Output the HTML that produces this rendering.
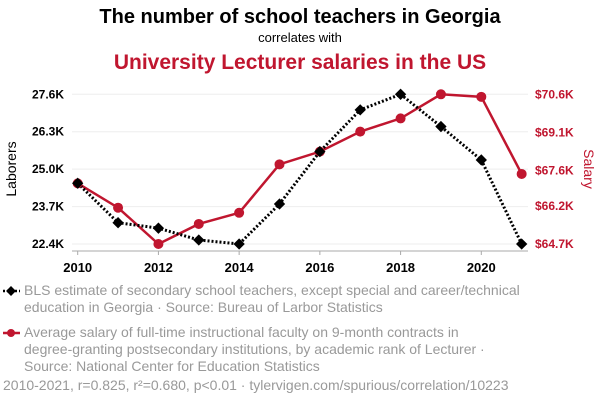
<!DOCTYPE html>
<html><head><meta charset="utf-8"><style>
body{margin:0;background:#fff;}
svg{display:block;font-family:"Liberation Sans",sans-serif;}
</style></head><body>
<svg id="c" width="600" height="408">
<text x="300" y="23" text-anchor="middle" font-size="20" font-weight="bold" fill="#000">The number of school teachers in Georgia</text>
<text x="300" y="42" text-anchor="middle" font-size="13" fill="#000">correlates with</text>
<text x="300" y="69" text-anchor="middle" font-size="21" font-weight="bold" fill="#c0162f">University Lecturer salaries in the US</text>
<text transform="translate(16,169) rotate(-90)" text-anchor="middle" font-size="14" fill="#000">Laborers</text>
<text transform="translate(584,169) rotate(90)" text-anchor="middle" font-size="14" fill="#c0162f">Salary</text>
<g id="grid"></g><g id="axes"></g><g id="marks"></g>
<g font-size="14" fill="#999">
<path d="M3,291 L20,291" stroke="#000" stroke-width="2.5" stroke-dasharray="2,2"/>
<rect x="7.5" y="287.5" width="7" height="7" transform="rotate(45 11 291)" fill="#000"/>
<text x="24" y="295"><tspan x="24">BLS estimate of secondary school teachers, except special and career/technical</tspan><tspan x="24" dy="17">education in Georgia · Source: Bureau of Larbor Statistics</tspan></text>
<path d="M3,333 L20,333" stroke="#c0162f" stroke-width="2.5"/>
<circle cx="11" cy="333" r="4" fill="#c0162f"/>
<text x="24" y="337"><tspan x="24">Average salary of full-time instructional faculty on 9-month contracts in</tspan><tspan x="24" dy="17">degree-granting postsecondary institutions, by academic rank of Lecturer ·</tspan><tspan x="24" dy="17">Source: National Center for Education Statistics</tspan></text>
<text x="3" y="390">2010-2021, r=0.825, r²=0.680, p&lt;0.01 · tylervigen.com/spurious/correlation/10223</text>
</g>
</svg>
<script>
const years=[2010,2011,2012,2013,2014,2015,2016,2017,2018,2019,2020,2021];
const teachers=[24.51,23.14,22.95,22.54,22.4,23.79,25.61,27.06,27.6,26.48,25.32,22.4];
const salary=[67.09,66.13,64.7,65.49,65.93,67.84,68.34,69.13,69.65,70.6,70.5,67.46];
const leftTicks=[22.4,23.7,25.0,26.3,27.6];
const leftLabels=["22.4K","23.7K","25.0K","26.3K","27.6K"];
const rightTicks=[64.7,66.2,67.6,69.1,70.6];
const rightLabels=["$64.7K","$66.2K","$67.6K","$69.1K","$70.6K"];
const xTicks=[2010,2012,2014,2016,2018,2020];
const NS="http://www.w3.org/2000/svg";
const x=v=>77.7+(v-2010)*40.36;
const yL=v=>244-(v-22.4)/5.2*149.7;
const yR=v=>244-(v-64.7)/5.9*149.7;
function mk(t,a,p){const e=document.createElementNS(NS,t);for(const k in a)e.setAttribute(k,a[k]);if(p)document.getElementById(p).appendChild(e);return e;}
leftTicks.forEach((v,i)=>{
 const g=mk('line',{x1:72,x2:528,y1:yL(v),y2:yL(v),stroke:'#eee','stroke-width':1},'grid');
 
 
 const t=mk('text',{x:64,y:yL(v)+4,'text-anchor':'end','font-size':12,'font-weight':'bold',fill:'#000'},'axes');
 t.textContent=leftLabels[i];
 
 
});
rightTicks.forEach((v,i)=>{
 const t=mk('text',{x:535,y:yR(v)+4,'font-size':12,'font-weight':'bold',fill:'#c0162f'},'axes');
 t.textContent=rightLabels[i];
 
 
});
const ax=mk('line',{x1:72,x2:528,y1:251,y2:251,stroke:'#aaa','stroke-width':1},'axes');


xTicks.forEach(v=>{
 const l=mk('line',{x1:x(v),x2:x(v),y1:251,y2:255,stroke:'#aaa'},'axes');
 
 
 const t=mk('text',{x:x(v),y:272,'text-anchor':'middle','font-size':13,'font-weight':'bold',fill:'#000'},'axes');
 t.textContent=v;
 
 
});
const rp=mk('polyline',{points:years.map((v,i)=>x(v)+','+yR(salary[i])).join(' '),fill:'none',stroke:'#c0162f','stroke-width':2.5},'marks');


const bp=mk('polyline',{points:years.map((v,i)=>x(v)+','+yL(teachers[i])).join(' '),fill:'none',stroke:'#000','stroke-width':3,'stroke-dasharray':'2,2'},'marks');


years.forEach((v,i)=>{
 const c=mk('circle',{cx:x(v),cy:yR(salary[i]),r:5,fill:'#c0162f'},'marks');
 
 
 const cx=x(v),cy=yL(teachers[i]);
 const d=mk('rect',{x:cx-4,y:cy-4,width:8,height:8,fill:'#000',transform:`rotate(45 ${cx} ${cy})`},'marks');
 
 
});
</script>
</body></html>
